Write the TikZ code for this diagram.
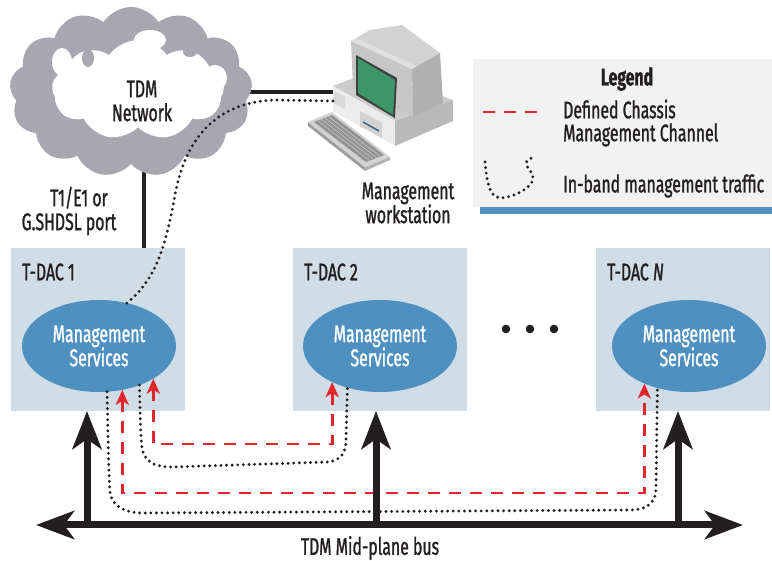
\documentclass[tikz,border=0pt]{standalone}
\usepackage{fontspec}
\setmainfont[FakeStretch=0.66,FakeBold=1.2]{Fira Sans}
\usetikzlibrary{arrows.meta,shapes.geometric,shapes.symbols,calc}
\definecolor{ink}{HTML}{231F20}
\definecolor{boxfill}{HTML}{D0DDE6}
\definecolor{msblue}{HTML}{4E90C0}
\definecolor{chred}{HTML}{E2262B}
\definecolor{cloudgray}{HTML}{A8A7B0}
\definecolor{legbg}{HTML}{F2F2F2}
\definecolor{screen}{HTML}{3C9667}
\tikzset{
  tdac/.style={fill=boxfill, inner sep=0pt, outer sep=0pt, minimum width=174pt, minimum height=163pt},
  mgmt/.style={ellipse, fill=msblue, text=white, inner sep=0pt, outer sep=0pt,
    minimum width=154pt, minimum height=92pt, align=center},
  lbl/.style={text=ink, inner sep=0pt, align=center},
  busline/.style={line width=7pt, draw=ink},
  bigtip/.style={-{Stealth[length=38pt,width=29pt,inset=10pt]}},
  chan/.style={draw=chred, line width=2.8pt, dash pattern=on 12pt off 9pt,
    {Stealth[length=15pt,width=13pt,inset=4pt,fill=chred]}-{Stealth[length=15pt,width=13pt,inset=4pt,fill=chred]}},
  inband/.style={draw=ink, line width=3.2pt, line cap=round, dash pattern=on 0pt off 5.6pt},
  wire/.style={draw=ink, line width=4.5pt},
}
\begin{document}
\begin{tikzpicture}[x=1pt,y=-1pt,font=\fontsize{24}{24}\selectfont]
\useasboundingbox (0,0) rectangle (772,561);

% ---------- legend ----------
\fill[legbg] (473,59) rectangle (772,207);
\fill[msblue] (480,207) rectangle (772,214);
\node[lbl, font=\fontsize{24}{24}\selectfont\bfseries] (legtitle) at (627,79) {Legend};
\coordinate (legA) at (483,112);
\coordinate (legB) at (537,112);
\draw[draw=chred, line width=2.8pt, dash pattern=on 12pt off 9pt] (legA) -- (legB);
\node[lbl, anchor=west, align=left, font=\fontsize{24}{23}\selectfont] (legchan) at (563,123) {Defined Chassis\\Management Channel};
\coordinate (legC) at (485,162);
\coordinate (legD) at (533,157);
\draw[inband] (legC) .. controls (487,180) and (488,196) .. (500,198)
  .. controls (512,198) and (533,188) .. (533,178)
  .. controls (533,170) and (524,168) .. (527,161) -- (legD);
\node[lbl, anchor=west] (legband) at (563,186) {In-band management traffic};

% ---------- T-DAC cards ----------
\node[tdac] (tdac1) at (98,329.5) {};
\node[tdac] (tdac2) at (379.5,329.5) {};
\node[tdac] (tdacN) at (683,329.5) {};
\node[lbl, anchor=west] (name1) at (22,272) {T-DAC 1};
\node[lbl, anchor=west] (name2) at (304,272) {T-DAC 2};
\node[lbl, anchor=west] (nameN) at (607,272) {T-DAC \textit{N}};
\node[mgmt] (ms1) at (99,346) {Management\\Services};
\node[mgmt] (ms2) at (380,346) {Management\\Services};
\node[mgmt] (msN) at (689,346) {Management\\Services};
\fill[ink] (506,329) circle (4.3pt) (530,329) circle (4.3pt) (554,329) circle (4.3pt);

% ---------- links to the network and the workstation ----------
\coordinate (port) at (144,248);
\coordinate (pcport) at (333,92);
\draw[wire] (port |- 0,150) -- (port);
\draw[wire] (240,92) -- (pcport);

% ---------- TDM network cloud ----------
\node[cloud, cloud puffs=13, cloud puff arc=115, cloud ignores aspect, fill=cloudgray,
  minimum width=243pt, minimum height=170pt, inner sep=0pt] (cloud) at (131,92) {};
\node[cloud, cloud puffs=9, cloud puff arc=110, cloud ignores aspect, fill=white,
  minimum width=172pt, minimum height=100pt, inner sep=0pt] (cloudin) at (138,90) {};
\fill[white] (62,62) ellipse (10pt and 14pt) (215,78) ellipse (12pt and 13pt)
  (150,40) ellipse (16pt and 10pt) (112,128) ellipse (14pt and 9pt);
\fill[cloudgray] (88,58) ellipse (6pt and 9pt) (190,52) ellipse (7pt and 5pt);
\node[lbl] (net) at (142,101) {TDM\\Network};

% ---------- management workstation ----------
\begin{scope}[line join=round]
  % keyboard
  \fill[gray!75] (308,122) -- (365,167) -- (365,171) -- (308,126) -- cycle;
  \fill[gray!60] (365,167) -- (390,157) -- (390,160) -- (365,171) -- cycle;
  \fill[gray!35] (308,122) -- (332,112) -- (390,157) -- (365,167) -- cycle;
  \fill[gray!85] (314,122) -- (332,115) -- (384,155) -- (366,162) -- cycle;
  \foreach \t in {0.2,0.4,0.6,0.8}
    \draw[gray!45, line width=0.6pt] ($(314,122)!\t!(332,115)$) -- ($(366,162)!\t!(384,155)$);
  % system unit
  \fill[gray!40] (333,86) -- (372,71) -- (453,100) -- (395,121) -- cycle;
  \fill[gray!15] (333,86) -- (395,121) -- (395,146) -- (333,111) -- cycle;
  \fill[gray!55] (395,121) -- (453,100) -- (453,121) -- (395,146) -- cycle;
  \fill[gray!35] (360,111) -- (382,123) -- (382,138) -- (360,126) -- cycle;
  \draw[msblue!70!black, line width=1.5pt] (363,122) -- (379,131);
  \fill[gray!30] (334,91) -- (345,97) -- (345,109) -- (334,103) -- cycle;
  % monitor
  \fill[gray!35] (351,41) -- (370,30) -- (402,25) -- (440,53) -- (412,69) -- cycle;
  \fill[gray!62] (412,69) -- (440,53) -- (443,103) -- (413,117) -- cycle;
  \fill[gray!45] (351,41) -- (412,69) -- (413,117) -- (353,88) -- cycle;
  \fill[gray!25] (351,41) -- (356,38) -- (416,66) -- (412,69) -- cycle;
  \fill[black!75] (356,55) -- (397,78) -- (395,118) -- (356,95) -- cycle;
  \fill[screen] (358,58) -- (395,80) -- (393,115) -- (358,93) -- cycle;
\end{scope}
\coordinate (pcdot) at (333,101);
\node[lbl] (pclabel) at (408,203) {Management\\workstation};

% ---------- port label ----------
\node[lbl] (portlabel) at (69,211) {\hspace*{20pt}T1/E1 or\\G.SHDSL port};

% ---------- in-band traffic ----------
\draw[inband] (pcdot) -- (275,100) .. controls (215,102) and (185,140) .. (175,195)
  .. controls (165,250) and (155,280) .. (ms1.57);
\draw[inband] (ms1.-44.5) .. controls (140,420) and (141,440) .. (142,448)
  .. controls (145,465) and (160,467) .. (172,467) -- (328,462)
  .. controls (342,460) and (346,452) .. (346,440) -- (ms2.-128.5);
\draw[inband] (ms1.-80) .. controls (108,440) and (109,480) .. (110,492)
  .. controls (112,508) and (128,513) .. (142,513) -- (632,510)
  .. controls (650,509) and (656,500) .. (656,488) -- (msN.-127.4);

% ---------- defined chassis management channel ----------
\draw[chan] (ms1.-31.3) -- (ms1.-31.3 |- 0,444) -| (ms2.-143.1);
\draw[chan] (ms1.-62.3) -- (ms1.-62.3 |- 0,493) -| (msN.-140.4);

% ---------- TDM mid-plane bus ----------
\coordinate (busL) at (36,525);
\coordinate (busR) at (743,525);
\coordinate (bus1) at (87,525);
\coordinate (bus2) at (376,525);
\coordinate (busN) at (678,525);
\draw[busline, {Stealth[length=38pt,width=28pt,inset=10pt]}-{Stealth[length=38pt,width=28pt,inset=10pt]}] (busL) -- (busR);
\draw[busline, bigtip] (bus1) -- (bus1 |- tdac1.south);
\draw[busline, bigtip] (bus2) -- (bus2 |- tdac2.south);
\draw[busline, bigtip] (busN) -- (busN |- tdacN.south);
\node[lbl] (buslabel) at (370,548) {TDM Mid-plane bus};
\end{tikzpicture}
\end{document}
